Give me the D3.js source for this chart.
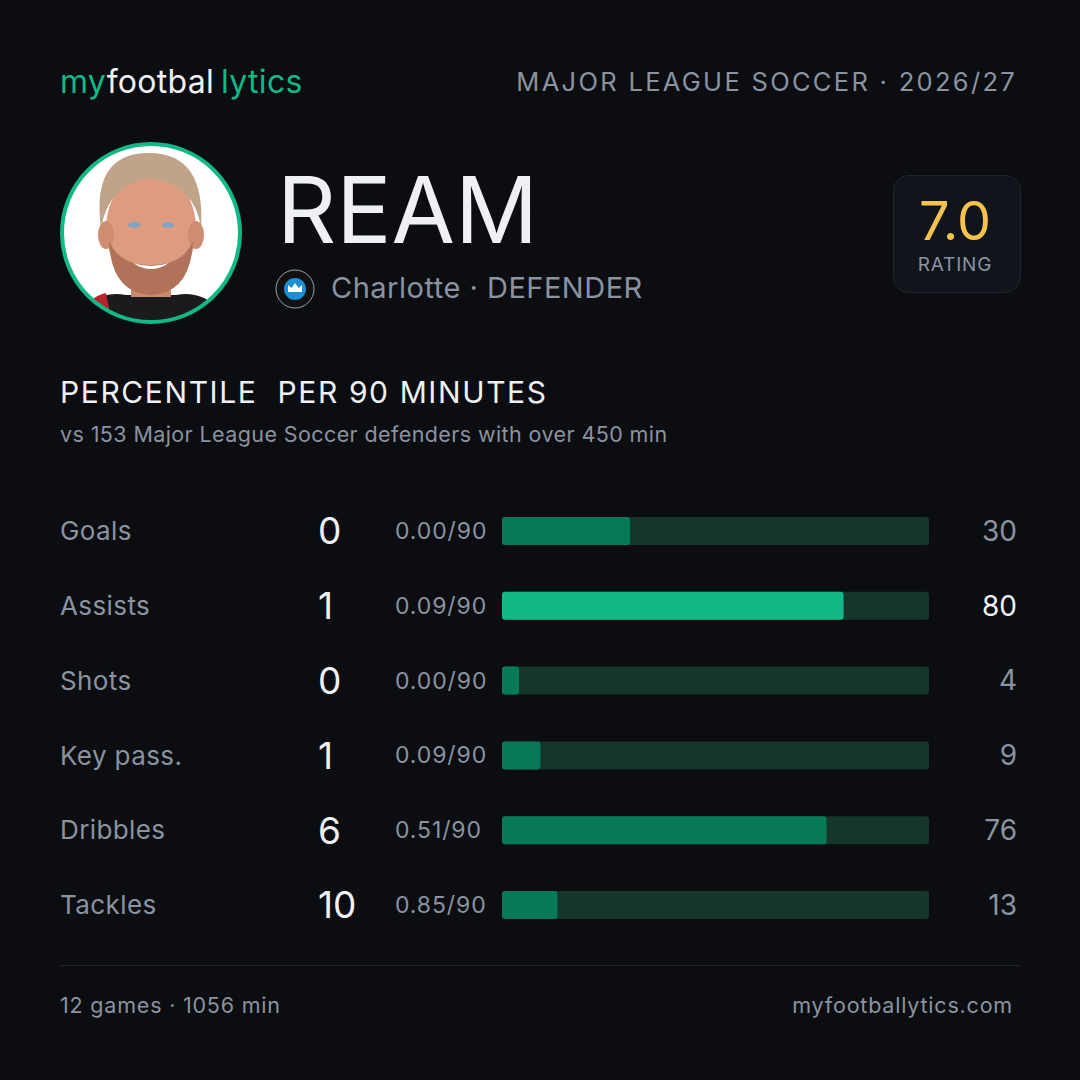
<!DOCTYPE html>
<html lang="en">
<head>
    <meta charset="UTF-8">
    <title>Ream - percentile card</title>
    <style>
        html, body { margin: 0; padding: 0; background: #0b0d11; }
        svg { display: block; font-family: Inter, "Noto Sans", sans-serif; }
    </style>
</head>
<body>
    <svg id="card" width="1080" height="1080"></svg>

    <script src="https://d3js.org/d3.v7.min.js"></script>
    <script>
        const metrics = ["Goals", "Assists", "Shots", "Key pass.", "Dribbles", "Tackles"]
        const counts = [0, 1, 0, 1, 6, 10]
        const per90 = ["0.00/90", "0.09/90", "0.00/90", "0.09/90", "0.51/90", "0.85/90"]
        const percentiles = [30, 80, 4, 9, 76, 13]

        const player = "REAM"
        const club = "Charlotte · DEFENDER"
        const league = "MAJOR LEAGUE SOCCER · 2026/27"
        const rating = "7.0"
        const footerLeft = "12 games · 1056 min"
        const footerRight = "myfootballytics.com"

        const rows = metrics.map((m, i) => ({
            metric: m,
            count: counts[i],
            per90: per90[i],
            pct: percentiles[i]
        }))

        const width = 1080
        const green = "#12b886"
        const gray = "#8a93a0"
        const white = "#eef0f3"

        const svg = d3.select("#card")
        svg.append("rect").attr("width", width).attr("height", 1080).attr("fill", "#0b0d11")

        // logo
        const logo = svg.append("text")
            .attr("x", 60).attr("y", 93)
            .attr("font-size", 32)
            .attr("letter-spacing", 0.3)
        logo.append("tspan").attr("fill", green).text("my")
        logo.append("tspan").attr("fill", white).text("footbal")
        logo.append("tspan").attr("fill", green).attr("dx", 7).text("lytics")

        svg.append("text")
            .attr("x", 1017).attr("y", 91)
            .attr("text-anchor", "end")
            .attr("font-size", 25.5)
            .attr("letter-spacing", 2.3)
            .attr("fill", gray)
            .text(league)

        // player photo placeholder (drawn portrait)
        const photo = svg.append("g").attr("transform", "translate(151, 233)")
        photo.append("defs").append("clipPath").attr("id", "clip")
            .append("circle").attr("r", 88)
        const face = photo.append("g").attr("clip-path", "url(#clip)")
        face.append("circle").attr("r", 88).attr("fill", "#ffffff")
        // shirt
        face.append("path").attr("d", "M-80,95 Q-60,55 -25,62 L25,62 Q60,55 80,95 Z").attr("fill", "#1b1b1d")
        face.append("path").attr("d", "M-80,95 Q-65,64 -45,60 L-38,95 Z").attr("fill", "#b3262c")
        // neck
        face.append("rect").attr("x", -20).attr("y", 34).attr("width", 40).attr("height", 30).attr("fill", "#c98a6e")
        // head
        face.append("ellipse").attr("cx", 0).attr("cy", -4).attr("rx", 45).attr("ry", 58).attr("fill", "#dd9c80")
        // ears
        face.append("ellipse").attr("cx", -45).attr("cy", 2).attr("rx", 8).attr("ry", 14).attr("fill", "#d08c70")
        face.append("ellipse").attr("cx", 45).attr("cy", 2).attr("rx", 8).attr("ry", 14).attr("fill", "#d08c70")
        // beard
        face.append("path").attr("d", "M-42,8 Q-40,60 0,62 Q40,60 42,8 Q32,32 0,32 Q-32,32 -42,8 Z").attr("fill", "#b0735a")
        // mouth
        face.append("path").attr("d", "M-18,30 Q0,42 18,30 Q0,36 -18,30 Z").attr("fill", "#ffffff")
        // hair
        face.append("path").attr("d", "M-50,-5 Q-60,-78 -5,-80 Q55,-82 50,-5 Q44,-48 0,-55 Q-42,-50 -50,-5 Z").attr("fill", "#bfa48a")
        // eyes
        face.append("ellipse").attr("cx", -17).attr("cy", -8).attr("rx", 6).attr("ry", 3).attr("fill", "#7fa5c4")
        face.append("ellipse").attr("cx", 17).attr("cy", -8).attr("rx", 6).attr("ry", 3).attr("fill", "#7fa5c4")
        photo.append("circle").attr("r", 89).attr("fill", "none").attr("stroke", green).attr("stroke-width", 4)

        // name + club
        svg.append("text")
            .attr("x", 277).attr("y", 243)
            .attr("font-size", 92)
            .attr("font-weight", 400)
            .attr("fill", white)
            .text(player)

        const badge = svg.append("g").attr("transform", "translate(295, 289)")
        badge.append("circle").attr("r", 19).attr("fill", "#111").attr("stroke", "#9aa3ad").attr("stroke-width", 1)
        badge.append("circle").attr("r", 11).attr("fill", "#1a8fd6")
        badge.append("path").attr("d", "M-7,3 L-7,-4 L-3.5,-1 L0,-6 L3.5,-1 L7,-4 L7,3 Z").attr("fill", "#fff")

        svg.append("text")
            .attr("x", 331).attr("y", 298)
            .attr("font-size", 29)
            .attr("letter-spacing", 0.5)
            .attr("fill", gray)
            .text(club)

        // rating box
        svg.append("rect")
            .attr("x", 893.5).attr("y", 175.5)
            .attr("width", 127).attr("height", 117)
            .attr("rx", 15)
            .attr("fill", "#10141b")
            .attr("stroke", "#1f242d")
        svg.append("text")
            .attr("x", 955).attr("y", 240)
            .attr("text-anchor", "middle")
            .attr("font-size", 54)
            .attr("fill", "#f4c24d")
            .text(rating)
        svg.append("text")
            .attr("x", 955).attr("y", 271)
            .attr("text-anchor", "middle")
            .attr("font-size", 19)
            .attr("letter-spacing", 0.8)
            .attr("fill", gray)
            .text("RATING")

        // section title
        svg.append("text")
            .attr("x", 60).attr("y", 403)
            .attr("font-size", 30)
            .attr("letter-spacing", 1.6)
            .attr("fill", white)
            .attr("xml:space", "preserve")
            .text("PERCENTILE  PER 90 MINUTES")
        svg.append("text")
            .attr("x", 60).attr("y", 442)
            .attr("font-size", 21.5)
            .attr("letter-spacing", 0.4)
            .attr("fill", gray)
            .text("vs 153 Major League Soccer defenders with over 450 min")

        // scales
        const xscale = d3.scaleLinear().domain([0, 100]).range([502, 929])
        const yscale = d3.scalePoint()
            .domain(metrics)
            .range([531, 905])

        const row = svg.append("g")
            .selectAll("g")
            .data(rows)
            .enter()
            .append("g")
            .attr("transform", d => `translate(0, ${yscale(d.metric)})`)

        row.append("text")
            .attr("x", 60).attr("dy", "0.35em")
            .attr("font-size", 26)
            .attr("letter-spacing", 0.4)
            .attr("fill", gray)
            .text(d => d.metric)

        row.append("text")
            .attr("x", 318).attr("dy", "0.36em")
            .attr("font-size", 37)
            .attr("fill", white)
            .text(d => d.count)

        row.append("text")
            .attr("x", 395).attr("dy", "0.35em")
            .attr("font-size", 23)
            .attr("letter-spacing", 0.9)
            .attr("fill", gray)
            .text(d => d.per90)

        const barH = 28
        row.append("rect")
            .attr("x", xscale(0))
            .attr("y", -barH / 2)
            .attr("width", xscale(100) - xscale(0))
            .attr("height", barH)
            .attr("rx", 3)
            .attr("fill", "#16352b")

        row.append("rect")
            .attr("x", xscale(0))
            .attr("y", -barH / 2)
            .attr("width", d => xscale(d.pct) - xscale(0))
            .attr("height", barH)
            .attr("rx", 3)
            .attr("fill", d => d.pct >= 80 ? green : "#067a58")

        row.append("text")
            .attr("x", 1017).attr("dy", "0.35em")
            .attr("text-anchor", "end")
            .attr("font-size", 28)
            .attr("fill", d => d.pct >= 80 ? white : gray)
            .text(d => d.pct)

        // footer
        svg.append("line")
            .attr("x1", 60).attr("x2", 1020)
            .attr("y1", 965.5).attr("y2", 965.5)
            .attr("stroke", "#22252e")
        svg.append("text")
            .attr("x", 60).attr("y", 1013)
            .attr("font-size", 21.5)
            .attr("letter-spacing", 0.8)
            .attr("fill", gray)
            .text(footerLeft)
        svg.append("text")
            .attr("x", 1013).attr("y", 1013)
            .attr("text-anchor", "end")
            .attr("font-size", 21.5)
            .attr("letter-spacing", 0.8)
            .attr("fill", gray)
            .text(footerRight)
    </script>
</body>
</html>
